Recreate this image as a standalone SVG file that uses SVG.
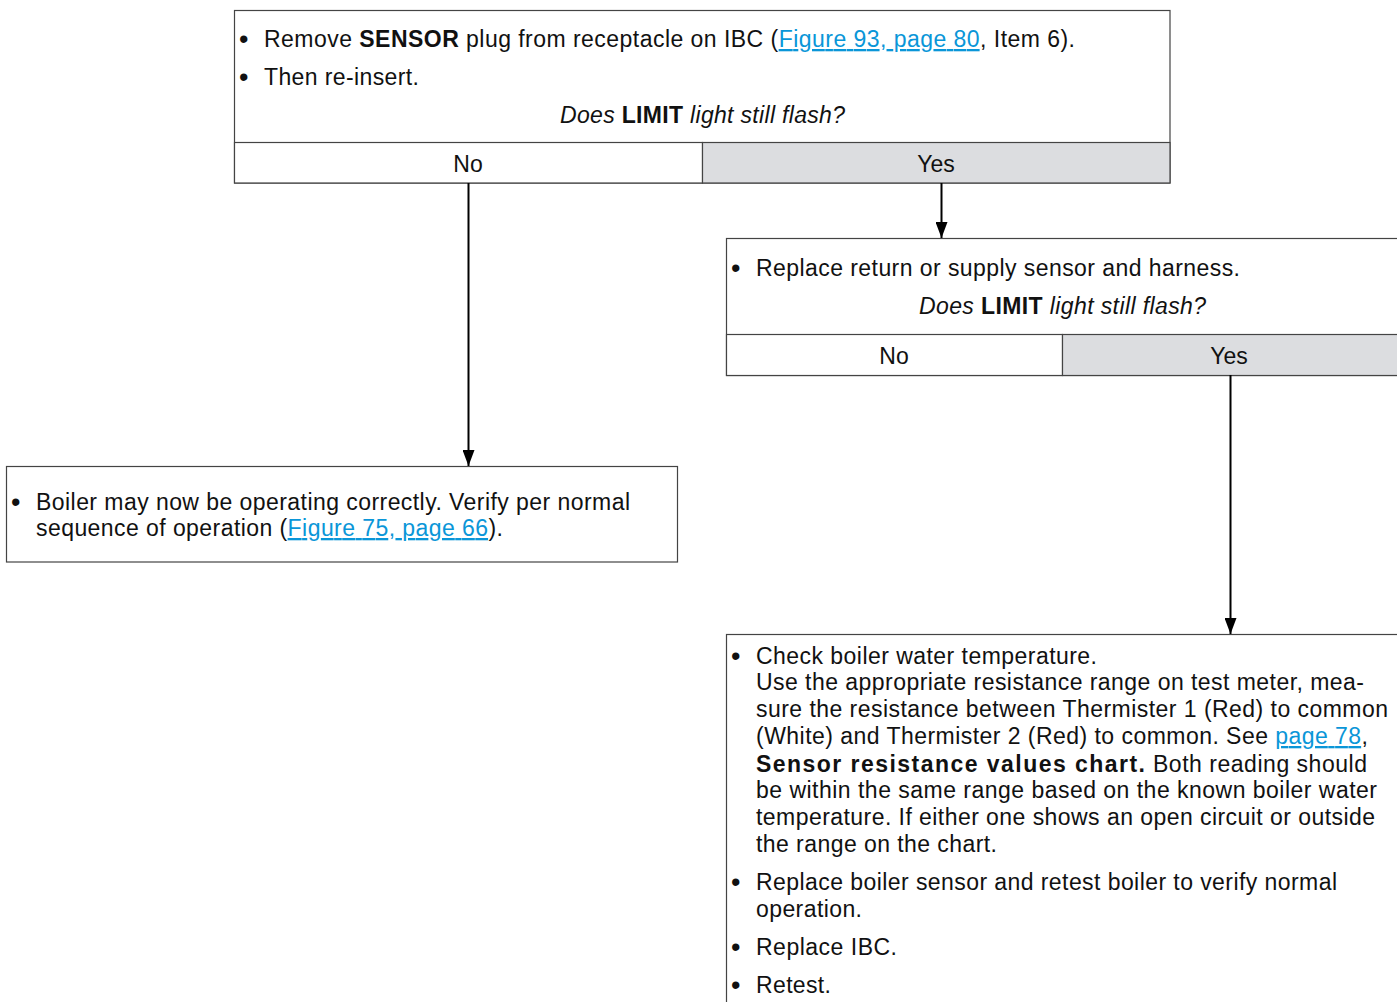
<svg xmlns="http://www.w3.org/2000/svg" width="1397" height="1002" viewBox="0 0 1397 1002">
<defs>
<style>
text{font-family:"Liberation Sans",Arial,sans-serif;font-size:23px;fill:#111;}
.bu{font-size:27px;}
.box{fill:#fff;stroke:#444;stroke-width:1.2;}
.yes{fill:#dcdde0;stroke:#444;stroke-width:1.2;}
.no{fill:#fff;stroke:#444;stroke-width:1.2;}
.c{text-anchor:middle;}
.b{font-weight:bold;}
.i{font-style:italic;}
.lk{fill:#0a96d8;text-decoration:underline;}
.conn{stroke:#000;stroke-width:2;fill:none;marker-end:url(#ah);}
</style>
<marker id="ah" viewBox="0 0 16 12" refX="16" refY="6" markerWidth="16" markerHeight="12" markerUnits="userSpaceOnUse" orient="auto">
<path d="M0,0 L16,6 L0,12 z" fill="#000"/>
</marker>
</defs>
<rect width="1397" height="1002" fill="#fff"/>

<g id="decision1">
<rect class="box" x="234.5" y="10.5" width="935.5" height="172.5"/>
<rect class="no" x="234.5" y="142.5" width="468" height="40.5"/>
<rect class="yes" x="702.5" y="142.5" width="467.5" height="40.5"/>
<text class="bu" x="239" y="48">•</text>
<text x="264" y="47" textLength="811">Remove <tspan class="b">SENSOR</tspan> plug from receptacle on IBC (<tspan class="lk">Figure 93, page 80</tspan>, Item 6).</text>
<text class="bu" x="239" y="86">•</text>
<text x="264" y="85" textLength="155">Then re-insert.</text>
<text x="560" y="123" textLength="285"><tspan class="i">Does </tspan><tspan class="b">LIMIT</tspan><tspan class="i"> light still flash?</tspan></text>
<text class="c" x="468" y="172">No</text>
<text class="c" x="936" y="172">Yes</text>
</g>

<g id="result-ok">
<rect class="box" x="6.5" y="466.5" width="671" height="95.5"/>
<text class="bu" x="11" y="511">•</text>
<text x="36" y="510" textLength="594">Boiler may now be operating correctly. Verify per normal</text>
<text x="36" y="536" textLength="467">sequence of operation (<tspan class="lk">Figure 75, page 66</tspan>).</text>
</g>

<g id="decision2">
<rect class="box" x="726.5" y="238.5" width="675" height="137"/>
<rect class="no" x="726.5" y="334.5" width="336" height="41"/>
<rect class="yes" x="1062.5" y="334.5" width="339" height="41"/>
<text class="bu" x="731" y="277">•</text>
<text x="756" y="276" textLength="484">Replace return or supply sensor and harness.</text>
<text x="919" y="314" textLength="287"><tspan class="i">Does </tspan><tspan class="b">LIMIT</tspan><tspan class="i"> light still flash?</tspan></text>
<text class="c" x="894" y="364">No</text>
<text class="c" x="1229" y="364">Yes</text>
</g>

<g id="check-sensor">
<rect class="box" x="726.5" y="634.5" width="675" height="380"/>
<text class="bu" x="731" y="665">•</text>
<text x="756" y="664" textLength="341">Check boiler water temperature.</text>
<text x="756" y="690" textLength="608">Use the appropriate resistance range on test meter, mea-</text>
<text x="756" y="717" textLength="632">sure the resistance between Thermister 1 (Red) to common</text>
<text x="756" y="744" textLength="612">(White) and Thermister 2 (Red) to common. See <tspan class="lk">page 78</tspan>,</text>
<text class="b" x="756" y="772" textLength="389">Sensor resistance values chart.</text>
<text x="1153" y="772" textLength="214">Both reading should</text>
<text x="756" y="798" textLength="621">be within the same range based on the known boiler water</text>
<text x="756" y="825" textLength="619">temperature. If either one shows an open circuit or outside</text>
<text x="756" y="852" textLength="241">the range on the chart.</text>
<text class="bu" x="731" y="891">•</text>
<text x="756" y="890" textLength="581">Replace boiler sensor and retest boiler to verify normal</text>
<text x="756" y="917" textLength="106">operation.</text>
<text class="bu" x="731" y="956">•</text>
<text x="756" y="955" textLength="141">Replace IBC.</text>
<text class="bu" x="731" y="994">•</text>
<text x="756" y="993" textLength="75">Retest.</text>
</g>

<g id="connectors">
<line class="conn" x1="468.5" y1="183" x2="468.5" y2="466"/>
<line class="conn" x1="941.5" y1="183" x2="941.5" y2="238"/>
<line class="conn" x1="1230.5" y1="375" x2="1230.5" y2="634"/>
</g>
</svg>
